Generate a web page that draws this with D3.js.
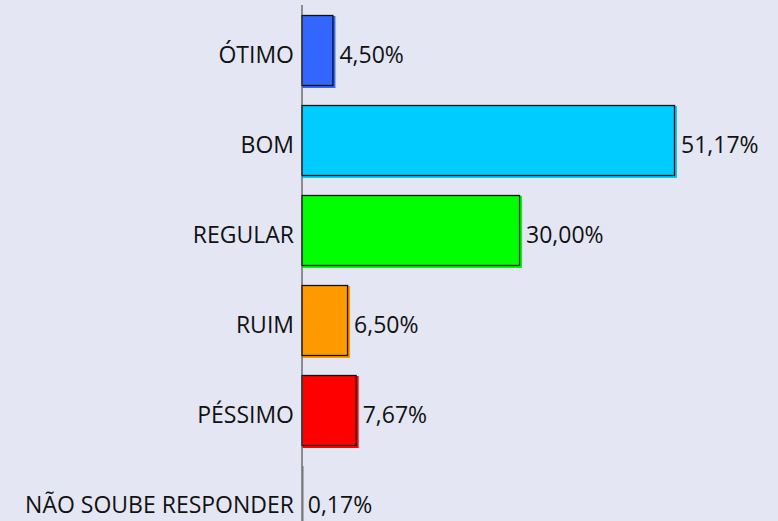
<!DOCTYPE html>
<html>
<head>
<meta charset="utf-8">
<script src="https://cdn.jsdelivr.net/npm/d3@7"></script>
<style>
  body { margin: 0; background: #e4e7f3; }
  svg { display: block; }
</style>
</head>
<body>
<svg id="chart"></svg>
<script>
const categories = ["ÓTIMO", "BOM", "REGULAR", "RUIM", "PÉSSIMO", "NÃO SOUBE RESPONDER"];
const values = [4.50, 51.17, 30.00, 6.50, 7.67, 0.17];
const colors = ["#3366ff", "#00ccff", "#00ff00", "#ff9900", "#ff0000", "#999999"];

const width = 778, height = 521;
const svg = d3.select("#chart").attr("width", width).attr("height", height);

svg.append("rect").attr("width", width).attr("height", height).attr("fill", "#e4e7f3");

const x = d3.scaleLinear().domain([0, 51.17]).range([302.5, 677]);
const y = d3.scaleBand().domain(categories).range([7, 547]).paddingInner(0.2).paddingOuter(0.1);

const data = categories.map((c, i) => ({ cat: c, v: values[i], color: colors[i] }));

const bars = svg.selectAll("g.bar").data(data).enter().append("g").attr("class", "bar");

bars.append("rect")
  .attr("x", x(0))
  .attr("y", d => y(d.cat))
  .attr("width", d => x(d.v) - x(0))
  .attr("height", y.bandwidth())
  .attr("fill", d => d.color);

bars.append("rect")
  .attr("x", x(0) - 0.5)
  .attr("y", d => y(d.cat) - 0.5)
  .attr("width", d => Math.max(0, x(d.v) - x(0) - 2))
  .attr("height", y.bandwidth() - 2)
  .attr("fill", "none")
  .attr("stroke", "#111")
  .attr("stroke-width", 1.3);

// axis line
svg.append("line")
  .attr("x1", 302).attr("x2", 302)
  .attr("y1", 5).attr("y2", height)
  .attr("stroke", "#333").attr("stroke-width", 1);

bars.append("text")
  .attr("x", 294)
  .attr("y", d => y(d.cat) + y.bandwidth() / 2 + 3)
  .attr("dy", "0.35em")
  .attr("text-anchor", "end")
  .attr("font-family", "'Open Sans', sans-serif")
  .attr("font-size", "23px")
  .attr("fill", "#111")
  .text(d => d.cat);

bars.append("text")
  .attr("x", d => x(d.v) + 4)
  .attr("y", d => y(d.cat) + y.bandwidth() / 2 + 3)
  .attr("dy", "0.35em")
  .attr("font-family", "'Open Sans', sans-serif")
  .attr("font-size", "23px")
  .attr("fill", "#111")
  .text(d => d.v.toFixed(2).replace(".", ",") + "%");
</script>
</body>
</html>
